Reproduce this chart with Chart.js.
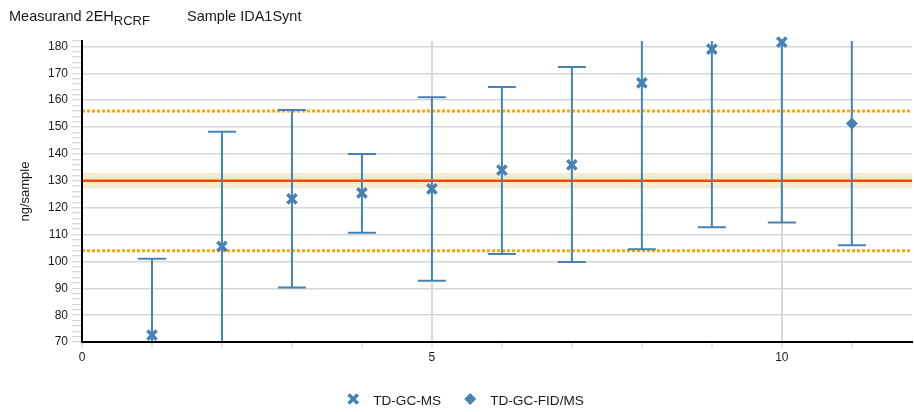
<!DOCTYPE html>
<html>
<head>
<meta charset="utf-8">
<script src="https://cdn.jsdelivr.net/npm/chart.js@4.4.1/dist/chart.umd.min.js"></script>
<style>
  body { margin: 0; background: #fff; }
  #wrap { position: relative; width: 914px; height: 412px; font-family: "Liberation Sans", Arial, sans-serif; color: #1a1a1a; }
  #chart { position: absolute; left: 0; top: 0; }
  .head { position: absolute; top: 9px; font-size: 14.5px; line-height: 14px; white-space: nowrap; }
  .head sub { font-size: 13px; vertical-align: -4px; line-height: 0; }
</style>
</head>
<body>
<div id="wrap">
  <canvas id="chart" width="914" height="412"></canvas>
  <div class="head" style="left:9px">Measurand 2EH<sub>RCRF</sub></div>
  <div class="head" style="left:187px">Sample IDA1Synt</div>
</div>
<script>
// participant results
const sampleNo   = [1, 2, 3, 4, 5, 6, 7, 8, 9, 10, 11];
const method     = ['TD-GC-MS', 'TD-GC-MS', 'TD-GC-MS', 'TD-GC-MS', 'TD-GC-MS', 'TD-GC-MS',
                    'TD-GC-MS', 'TD-GC-MS', 'TD-GC-MS', 'TD-GC-MS', 'TD-GC-FID/MS'];
const measured   = [72.6, 105.6, 123.3, 125.5, 127.0, 134.0, 135.9, 166.4, 179.0, 181.6, 151.3];
const upperLimit = [101.0, 148.2, 156.3, 140.0, 161.1, 164.9, 172.3, 228.3, 245.3, 248.7, 196.6];
const lowerLimit = [44.2, 63.0, 90.3, 110.7, 92.8, 102.8, 99.8, 104.5, 112.7, 114.5, 106.0];
const methods    = ['TD-GC-MS', 'TD-GC-FID/MS'];
const markerStyle = ['crossRot', 'rectRot'];

// reference value, its uncertainty and the tolerance limits
const assignedValue = 130;
const assignedUncertainty = 2.85;
const toleranceLimits = [104, 156];

const xTickValues = [0, 1, 2, 3, 4, 5, 6, 7, 8, 9, 10, 11];

const BLUE = '#4682b4';
const FONT = '"Liberation Sans", Arial, sans-serif';

Chart.defaults.font.family = FONT;
Chart.defaults.color = '#1a1a1a';

const datasets = methods.map((m, k) => ({
    label: m,
    data: sampleNo.map((s, i) => ({ x: s, y: measured[i] })).filter((p, i) => method[i] === m),
    pointStyle: markerStyle[k],
    pointRadius: k === 0 ? 6.5 : 5.5,
    pointHoverRadius: k === 0 ? 6.5 : 5.5,
    pointBorderWidth: k === 0 ? 3.5 : 1,
    pointBorderColor: BLUE,
    pointBackgroundColor: BLUE,
    showLine: false,
    clip: false
}));

const referencePlugin = {
    id: 'referenceLines',
    beforeDatasetsDraw(chart) {
        const { ctx, chartArea: a, scales: { x, y } } = chart;
        ctx.save();
        ctx.beginPath();
        ctx.rect(a.left + 1, a.top, a.right - a.left - 1, a.bottom - a.top - 1);
        ctx.clip();

        // uncertainty band of the assigned value
        const bTop = y.getPixelForValue(assignedValue + assignedUncertainty);
        const bBot = y.getPixelForValue(assignedValue - assignedUncertainty);
        ctx.fillStyle = '#f5ebcf';
        ctx.fillRect(a.left, bTop, a.right - a.left, bBot - bTop);

        // tolerance limits
        ctx.strokeStyle = '#ffa500';
        ctx.lineWidth = 3;
        ctx.setLineDash([3, 2]);
        toleranceLimits.forEach(v => {
            const py = y.getPixelForValue(v);
            ctx.beginPath();
            ctx.moveTo(a.left, py);
            ctx.lineTo(a.right, py);
            ctx.stroke();
        });
        ctx.setLineDash([]);

        // assigned value
        const av = y.getPixelForValue(assignedValue);
        ctx.strokeStyle = '#ff4500';
        ctx.lineWidth = 2.5;
        ctx.beginPath();
        ctx.moveTo(a.left, av);
        ctx.lineTo(a.right, av);
        ctx.stroke();

        // error bars
        ctx.strokeStyle = BLUE;
        ctx.lineWidth = 2;
        sampleNo.forEach((s, i) => {
            const px = x.getPixelForValue(s);
            const top = y.getPixelForValue(upperLimit[i]);
            const bot = y.getPixelForValue(lowerLimit[i]);
            ctx.beginPath();
            ctx.moveTo(px, top);
            ctx.lineTo(px, bot);
            ctx.moveTo(px - 14, top);
            ctx.lineTo(px + 14, top);
            ctx.moveTo(px - 14, bot);
            ctx.lineTo(px + 14, bot);
            ctx.stroke();
        });
        ctx.restore();
    }
};

const legendPlugin = {
    id: 'bottomLegend',
    afterDraw(chart) {
        const ctx = chart.ctx;
        ctx.save();
        ctx.font = '13.6px ' + FONT;
        ctx.textBaseline = 'alphabetic';
        const markerToText = 20, itemGap = 29, centerX = 465.5, markerY = 399, textY = 404.5;
        const widths = chart.data.datasets.map(ds => ctx.measureText(ds.label).width);
        const total = widths.reduce((s, w) => s + markerToText + w, 0) + itemGap * (widths.length - 1) + 6;
        let x = centerX - total / 2 + 6;
        chart.data.datasets.forEach((ds, k) => {
            ctx.fillStyle = BLUE;
            ctx.strokeStyle = BLUE;
            ctx.lineWidth = ds.pointBorderWidth;
            Chart.helpers.drawPoint(ctx, {
                pointStyle: ds.pointStyle,
                radius: ds.pointRadius,
                borderWidth: ds.pointBorderWidth,
                rotation: 0
            }, x, markerY);
            ctx.fillStyle = '#1a1a1a';
            ctx.fillText(ds.label, x + markerToText, textY);
            x += markerToText + widths[k] + itemGap;
        });
        ctx.restore();
    }
};

new Chart(document.getElementById('chart'), {
    type: 'scatter',
    data: { datasets },
    options: {
        responsive: false,
        animation: false,
        events: [],
        // no automatic room for the point markers, the plot runs to the right edge
        layout: { autoPadding: false, padding: { top: 41, right: 2, bottom: 45.5, left: 0 } },
        plugins: { legend: { display: false }, tooltip: { enabled: false } },
        scales: {
            x: {
                type: 'linear',
                min: 0,
                max: 11.86,
                afterBuildTicks: axis => { axis.ticks = xTickValues.map(v => ({ value: v })); },
                ticks: {
                    autoSkip: false,
                    maxRotation: 0,
                    padding: 2,
                    font: { size: 12 },
                    callback: v => (v % 5 === 0 ? v : '')
                },
                grid: {
                    color: c => (c.tick && c.tick.value > 0 && c.tick.value % 5 === 0 ? '#d9d9d9' : 'rgba(0,0,0,0)'),
                    lineWidth: 2,
                    tickColor: '#cccccc',
                    tickLength: 6,
                    tickWidth: 1
                },
                border: { color: '#000', width: 2 }
            },
            y: {
                min: 70,
                max: 182,
                afterFit: scale => { scale.width = 82; },
                ticks: {
                    stepSize: 2,
                    autoSkip: false,
                    padding: 4,
                    font: { size: 12 },
                    callback: v => (v % 10 === 0 ? v : '')
                },
                grid: {
                    color: c => (c.tick && c.tick.value % 10 === 0 ? '#d6d6d6' : 'rgba(0,0,0,0)'),
                    lineWidth: 1.5,
                    tickColor: '#cccccc',
                    tickLength: 10,
                    tickWidth: 1
                },
                border: { color: '#000', width: 2 },
                title: {
                    display: true,
                    text: 'ng/sample',
                    font: { size: 13 },
                    padding: { top: 17.5, bottom: 0 }
                }
            }
        }
    },
    plugins: [referencePlugin, legendPlugin]
});
</script>
</body>
</html>
